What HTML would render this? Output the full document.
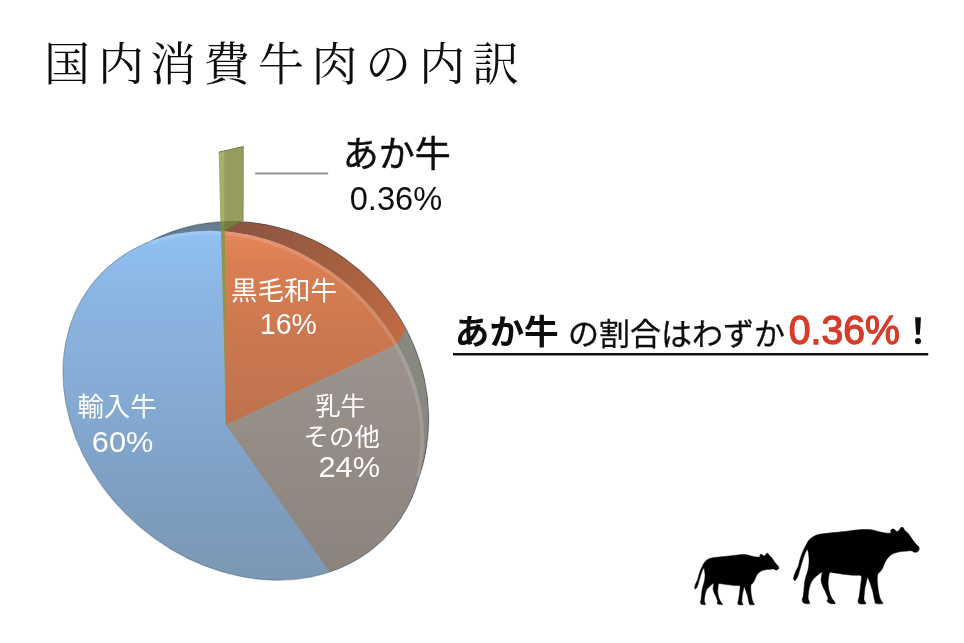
<!DOCTYPE html>
<html lang="ja"><head><meta charset="utf-8"><title>国内消費牛肉の内訳</title>
<style>
html,body{margin:0;padding:0;background:#fff;}
body{width:964px;height:643px;overflow:hidden;font-family:"Liberation Sans",sans-serif;}
svg{display:block;}
</style></head><body>
<svg width="964" height="643" viewBox="0 0 964 643" font-family="'Liberation Sans', sans-serif"><filter id="soft" x="0" y="0" width="964" height="643" filterUnits="userSpaceOnUse"><feGaussianBlur stdDeviation="0.45"/></filter><rect width="964" height="643" fill="#fff"/><g filter="url(#soft)">
<defs>
<linearGradient id="gB" gradientUnits="userSpaceOnUse" x1="0" y1="230" x2="0" y2="580">
<stop offset="0" stop-color="#91c1f3"/><stop offset="0.2" stop-color="#8ab5e1"/><stop offset="0.45" stop-color="#86acd5"/><stop offset="0.69" stop-color="#7fa1c6"/><stop offset="1" stop-color="#7a97b3"/></linearGradient>
<linearGradient id="gO" gradientUnits="userSpaceOnUse" x1="0" y1="232" x2="0" y2="425">
<stop offset="0" stop-color="#e7865c"/><stop offset="0.18" stop-color="#d97e52"/><stop offset="0.5" stop-color="#cc7850"/><stop offset="0.85" stop-color="#c2744f"/><stop offset="1" stop-color="#bd724e"/></linearGradient>
<linearGradient id="gG" gradientUnits="userSpaceOnUse" x1="0" y1="345" x2="0" y2="575">
<stop offset="0" stop-color="#9c938c"/><stop offset="1" stop-color="#8b837d"/></linearGradient>
<linearGradient id="gRO" gradientUnits="userSpaceOnUse" x1="243" y1="221" x2="405" y2="329">
<stop offset="0" stop-color="#8c5540"/><stop offset="0.5" stop-color="#a35f40"/><stop offset="1" stop-color="#c06a43"/></linearGradient>
<clipPath id="cF"><ellipse cx="243.4" cy="405.4" rx="194.0" ry="159.6" transform="rotate(40.2 243.4 405.4)"/></clipPath>
<clipPath id="cBk"><ellipse cx="244.7" cy="405.9" rx="190.7" ry="177.6" transform="rotate(46.1 244.7 405.9)"/></clipPath>
<clipPath id="cHalf"><polygon points="100.0,197.9 480.0,531.1 480.0,100.0 100.0,100.0"/></clipPath>
<clipPath id="cHalf2"><polygon points="0.0,110.2 600.0,636.3 600.0,700.0 0.0,700.0"/></clipPath>
</defs>
<g clip-path="url(#cHalf)">
<g clip-path="url(#cBk)">
<rect x="40" y="200" width="420" height="400" fill="#667d93"/>
<polygon points="224.0,260.0 224.0,190.0 470.0,190.0 413.9,311.9 397.1,345.4 380.0,360.0" fill="url(#gRO)"/>
<polygon points="397.1,345.4 413.9,311.9 470.0,190.0 500.0,300.0 500.0,620.0 380.0,620.0 380.0,360.0" fill="#888780"/>
</g>
<ellipse cx="244.7" cy="405.9" rx="190.7" ry="177.6" transform="rotate(46.1 244.7 405.9)" fill="none" stroke="#000" stroke-opacity="0.28" stroke-width="1.2"/>
</g>
<g clip-path="url(#cF)">
<rect x="40" y="200" width="420" height="400" fill="url(#gB)"/>
<polygon points="226.0,425.0 217.0,-157.9 900.0,-200.0 739.9,183.2" fill="url(#gO)"/>
<polygon points="226.0,425.0 739.9,183.2 1200.0,900.0 533.2,860.0" fill="url(#gG)"/>
<g clip-path="url(#cHalf)"><ellipse cx="243.4" cy="405.4" rx="194.0" ry="159.6" transform="rotate(40.2 243.4 405.4)" fill="none" stroke="#fff" stroke-opacity="0.13" stroke-width="7"/></g>
</g>
<g clip-path="url(#cHalf2)"><ellipse cx="243.4" cy="405.4" rx="194.0" ry="159.6" transform="rotate(40.2 243.4 405.4)" fill="none" stroke="#3a4a5e" stroke-opacity="0.4" stroke-width="1"/></g>
<polygon points="223.9,151.3 243.4,146.5 243.2,221.3 223.9,221.3" fill="#979c5e"/>
<polygon points="224.4,221.3 241.6,221.3 224.8,230.4" fill="#6e7e3c"/>
<polygon points="218.7,152.2 224.4,151.2 224.4,221.3 220.3,221.3" fill="#aaaf66"/>
<polygon points="220.3,221.3 224.4,221.3 224.8,231.0 221.0,231.0" fill="#7d8c3f"/>
<polygon points="221.0,231.0 224.8,231.0 225.6,340.0 226.2,425.0 225.6,425.0 224.0,340.0" fill="#8c9844"/>
<path d="M218.7 152.2L243.4 146.5" stroke="#6f763f" stroke-width="1" fill="none"/>
<path d="M243.3 146.5L243.1 221.3" stroke="#858a50" stroke-width="0.8" fill="none"/>
<rect x="255.2" y="172.6" width="73" height="1.8" fill="#8b8b8b"/>
<rect x="453" y="353" width="475.2" height="2.5" fill="#111"/>
<g id="title" fill="#111" font-family="'Liberation Serif', 'Noto Serif CJK JP', 'Noto Serif CJK SC', serif" font-size="46" text-anchor="middle">
<text x="67" y="80">国</text>
<text x="121" y="80">内</text>
<text x="173" y="80">消</text>
<text x="227" y="80">費</text>
<text x="281" y="80">牛</text>
<text x="334.5" y="80">肉</text>
<text x="388" y="80">の</text>
<text x="442" y="80">内</text>
<text x="495.5" y="80">訳</text>
</g>
<text x="396.8" y="166.5" font-size="36" text-anchor="middle" fill="#111" stroke="#111" stroke-width="0.45" font-family="'Liberation Sans', 'Noto Sans CJK JP', sans-serif">あか牛</text>
<text x="283.9" y="299.5" font-size="26.5" text-anchor="middle" fill="#fff" font-family="'Liberation Sans', 'Noto Sans CJK JP', sans-serif">黒毛和牛</text>
<text x="117" y="415.5" font-size="26.4" text-anchor="middle" fill="#fff" font-family="'Liberation Sans', 'Noto Sans CJK JP', sans-serif">輸入牛</text>
<text x="340.5" y="414.5" font-size="25" text-anchor="middle" fill="#fff" font-family="'Liberation Sans', 'Noto Sans CJK JP', sans-serif">乳牛</text>
<text x="341.7" y="446" font-size="25.4" text-anchor="middle" fill="#fff" font-family="'Liberation Sans', 'Noto Sans CJK JP', sans-serif">その他</text>
<text x="506.7" y="344" font-size="34.6" font-weight="bold" text-anchor="middle" fill="#111" font-family="'Liberation Sans', 'Noto Sans CJK JP', sans-serif">あか牛</text>
<text x="676.6" y="344.5" font-size="31" text-anchor="middle" fill="#111" stroke="#111" stroke-width="0.3" font-family="'Liberation Sans', 'Noto Sans CJK JP', sans-serif">の割合はわずか</text>
<text x="918.1" y="344" font-size="35" font-weight="bold" text-anchor="middle" fill="#111" font-family="'Liberation Sans', 'Noto Sans CJK JP', sans-serif">！</text>
<g style="will-change:opacity;opacity:0.999">
<text transform="matrix(0.3260 0 0 0.3390 349.73 209.67)" font-size="100" textLength="283.5" lengthAdjust="spacingAndGlyphs" fill="#111">0.36%</text>
<text transform="matrix(0.2847 0 0 0.2980 259.83 334.41)" font-size="100" textLength="200.1" lengthAdjust="spacingAndGlyphs" fill="#fff">16%</text>
<text transform="matrix(0.3070 0 0 0.2980 91.84 452.31)" font-size="100" textLength="200.1" lengthAdjust="spacingAndGlyphs" fill="#fff">60%</text>
<text transform="matrix(0.3080 0 0 0.2940 318.45 476.53)" font-size="100" textLength="200.1" lengthAdjust="spacingAndGlyphs" fill="#fff">24%</text>
<text transform="matrix(0.3923 0 0 0.4025 788.72 344.06)" font-size="100" textLength="283.5" lengthAdjust="spacingAndGlyphs" stroke="#d63c28" stroke-width="3.27" stroke-linejoin="round" fill="#d63c28">0.36%</text>
</g>
<defs><path id="cow" d="M805.3 546.6C804.5 548.2 803.3 550.1 802.5 552.2C801.6 554.3 800.8 556.8 800.1 559.2C799.4 561.5 798.9 564.3 798.3 566.2C797.6 568.0 796.8 569.0 796.2 570.3C795.6 571.7 795.0 573.2 794.5 574.5C794.1 575.9 793.5 577.5 793.5 578.5C793.6 579.4 794.2 580.5 794.8 580.4C795.3 580.4 796.2 579.3 796.9 578.2C797.5 577.1 798.2 575.2 798.7 573.7C799.2 572.2 799.4 570.8 800.0 569.0C800.5 567.1 801.3 564.8 801.9 562.7C802.6 560.6 803.2 558.2 803.9 556.4C804.6 554.5 805.4 552.6 806.0 551.5C806.6 550.3 807.0 549.0 807.4 549.4C807.8 549.7 808.2 551.7 808.5 553.6C808.8 555.4 809.1 558.2 809.1 560.6C809.1 562.9 808.8 565.5 808.5 567.6C808.2 569.7 807.6 571.5 807.1 573.1C806.6 574.8 806.1 575.7 805.7 577.3C805.3 579.0 804.9 580.8 804.6 582.9C804.3 585.0 804.1 587.7 803.9 589.9C803.6 592.1 803.5 594.6 803.2 596.2C802.9 597.9 802.1 598.7 802.1 599.7C802.1 600.8 802.5 601.9 803.2 602.5C803.8 603.2 804.9 603.4 806.0 603.6C807.0 603.8 809.0 604.1 809.5 603.6C810.0 603.2 809.3 602.0 809.1 601.1C808.8 600.2 808.2 599.7 808.1 598.3C808.0 596.9 808.3 594.6 808.5 592.7C808.7 590.9 809.0 589.0 809.5 587.1C810.0 585.3 810.6 583.2 811.6 581.5C812.5 579.9 813.8 578.6 815.1 577.3C816.4 576.1 818.1 574.7 819.3 573.8C820.4 573.0 821.7 572.1 822.1 572.4C822.5 572.8 821.8 574.7 821.6 575.9C821.5 577.2 820.9 578.5 821.1 580.1C821.2 581.8 821.9 584.0 822.5 585.7C823.1 587.5 824.1 589.0 824.9 590.6C825.6 592.3 826.4 594.1 827.0 595.5C827.5 596.9 828.1 598.1 828.1 599.0C828.1 600.0 826.7 600.4 827.0 601.1C827.2 601.8 828.4 602.8 829.8 603.2C831.1 603.6 834.4 604.0 835.1 603.6C835.8 603.3 834.5 602.0 834.0 601.1C833.4 600.2 832.5 599.5 831.9 598.3C831.2 597.2 830.6 595.8 830.0 594.1C829.5 592.5 829.0 590.4 828.6 588.5C828.3 586.7 828.1 584.8 828.1 582.9C828.1 581.1 828.3 579.1 828.6 577.3C829.0 575.6 828.9 573.1 830.0 572.4C831.2 571.7 833.1 572.8 835.3 573.1C837.6 573.4 840.9 573.9 843.7 574.3C846.5 574.6 850.2 575.1 852.1 575.2C854.1 575.4 854.1 575.1 855.6 575.2C857.1 575.4 860.3 574.7 861.2 575.9C862.1 577.2 861.1 580.6 860.9 582.9C860.7 585.3 860.4 587.6 860.1 589.9C859.8 592.3 859.4 595.2 859.1 596.9C858.8 598.7 858.1 599.3 858.1 600.4C858.1 601.5 857.9 603.1 859.1 603.6C860.3 604.2 864.0 604.1 865.1 603.9C866.2 603.7 865.9 603.2 865.7 602.5C865.5 601.8 864.2 601.1 864.0 599.7C863.8 598.3 864.1 596.2 864.3 594.1C864.5 592.0 864.7 589.2 865.1 587.1C865.5 585.0 866.1 583.2 866.5 581.5C866.9 579.9 867.1 577.6 867.5 577.3C867.9 577.1 868.3 578.7 868.9 580.1C869.5 581.5 870.3 583.6 871.0 585.7C871.7 587.8 872.6 590.6 873.1 592.7C873.6 594.8 873.8 596.9 874.1 598.3C874.4 599.7 874.6 600.2 874.9 601.1C875.2 602.0 874.5 603.2 875.9 603.6C877.2 604.1 881.9 603.9 882.9 603.6C883.9 603.3 882.4 602.7 881.9 601.8C881.4 600.9 880.6 599.8 880.1 598.3C879.5 596.8 879.1 594.8 878.7 592.7C878.3 590.6 877.9 588.1 877.7 585.7C877.5 583.4 877.2 580.7 877.3 578.7C877.3 576.8 877.4 575.1 878.0 573.8C878.6 572.6 880.0 572.1 880.8 571.0C881.6 570.0 882.3 568.7 882.9 567.6C883.4 566.4 883.7 565.3 884.3 564.1C884.8 562.8 885.5 561.1 886.4 559.9C887.2 558.6 888.0 557.4 889.2 556.4C890.3 555.3 892.0 554.3 893.4 553.6C894.8 552.9 896.2 552.5 897.6 552.2C899.0 551.8 900.1 551.7 901.7 551.5C903.4 551.3 905.7 551.2 907.3 551.0C909.0 550.9 910.5 550.6 911.5 550.8C912.6 550.9 912.8 551.7 913.6 551.9C914.5 552.1 915.6 552.4 916.4 552.2C917.2 552.0 918.1 551.4 918.5 550.8C919.0 550.2 919.2 549.4 919.2 548.7C919.2 548.0 919.1 547.4 918.5 546.6C917.9 545.8 916.7 544.8 915.7 543.8C914.8 542.7 913.9 541.6 912.9 540.3C912.0 539.0 911.1 537.4 910.1 536.1C909.2 534.8 908.2 533.5 907.3 532.6C906.5 531.7 905.4 531.2 904.8 530.5C904.2 529.8 904.3 528.9 903.8 528.4C903.4 527.9 902.7 527.3 902.0 527.3C901.4 527.3 900.6 527.9 900.1 528.4C899.6 528.9 899.5 530.0 899.0 530.5C898.4 531.0 897.4 531.5 896.9 531.5C896.3 531.5 895.9 530.9 895.5 530.5C895.0 530.1 894.6 529.3 894.1 529.1C893.5 528.9 892.5 528.9 892.0 529.1C891.4 529.3 891.1 529.9 890.8 530.5C890.6 531.1 891.5 532.5 890.6 532.9C889.6 533.3 887.1 533.1 885.0 532.9C882.9 532.6 880.3 532.0 878.0 531.5C875.6 530.9 873.8 530.0 871.0 529.7C868.2 529.3 864.9 529.3 861.2 529.6C857.5 529.8 853.2 530.5 848.6 531.0C844.1 531.6 838.5 532.1 834.0 532.6C829.4 533.1 824.5 533.5 821.4 534.0C818.2 534.5 816.9 534.8 815.1 535.7C813.2 536.5 811.5 537.8 810.2 538.9C808.9 540.0 808.2 541.1 807.4 542.4C806.6 543.7 806.1 544.9 805.3 546.6Z"/></defs><use href="#cow" fill="#000" stroke="#000" stroke-width="0.5" stroke-linejoin="round"/><use href="#cow" fill="#000" stroke="#000" stroke-width="0.7" stroke-linejoin="round" transform="matrix(0.6706 0 0 0.6746 162.42 197.43)"/></g>
</svg>
</body></html>
